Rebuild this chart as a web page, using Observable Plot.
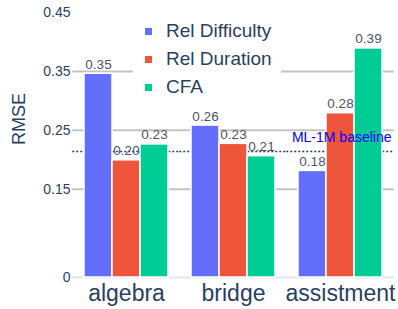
<!DOCTYPE html>
<html>
<head>
<meta charset="utf-8">
<script src="https://cdn.jsdelivr.net/npm/d3@7"></script>
<script src="https://cdn.jsdelivr.net/npm/@observablehq/plot@0.6"></script>
<style>
  html, body { margin: 0; padding: 0; background: #fff; }
  #wrap { position: relative; width: 398px; height: 309px; font-family: "Liberation Sans", Arial, sans-serif; }
  #legend { position: absolute; left: 133px; top: 17px; width: 148px; background: #fff; }
  .item { display: flex; align-items: center; height: 28px; font-size: 19px; color: #2a3f5f; white-space: nowrap; }
  .sw { width: 7px; height: 7px; margin-left: 12px; margin-right: 14px; flex: none; }
</style>
</head>
<body>
<div id="wrap"></div>
<script>
const categories = ["algebra", "bridge", "assistment"];
const seriesNames = ["Rel Difficulty", "Rel Duration", "CFA"];
const relDifficulty = [0.346, 0.258, 0.181];
const relDuration = [0.199, 0.227, 0.279];
const cfa = [0.226, 0.206, 0.389];
const seriesColors = ["#636efa", "#ef553b", "#00cc96"];
const yTicks = [0, 0.15, 0.25, 0.35, 0.45];
const gridValues = [0.15, 0.25, 0.35];
const baselineValue = 0.214;
const baselineLabel = "ML-1M baseline";
const yLabel = "RMSE";

const seriesValues = [relDifficulty, relDuration, cfa];
const rows = categories.flatMap((c, i) =>
  seriesNames.map((s, j) => ({category: c, series: s, value: seriesValues[j][i]}))
);
const baselineRows = [{value: baselineValue, label: baselineLabel, facet: categories[categories.length - 1]}];
const yLabelRows = [{label: yLabel, facet: categories[0]}];
const fmt = d3.format(".2f");

// rules are drawn in each facet, widened to span the gaps between facets
const span = -10.75;

const chart = Plot.plot({
  width: 398,
  height: 309,
  marginLeft: 72,
  marginRight: 4,
  marginTop: 12,
  marginBottom: 32,
  style: {fontFamily: '"Liberation Sans", Arial, sans-serif', background: "#fff", overflow: "visible"},
  fx: {domain: categories, paddingInner: 0.2, paddingOuter: 0.1, label: null},
  x: {domain: seriesNames, padding: 0, axis: null},
  y: {domain: [0, 0.45], label: null},
  color: {domain: seriesNames, range: seriesColors},
  marks: [
    Plot.ruleY(gridValues, {stroke: "#c4c4c4", strokeWidth: 2, insetLeft: span, insetRight: span}),
    Plot.ruleY([0], {stroke: "#e2e6ed", strokeWidth: 2, insetLeft: span, insetRight: span}),
    Plot.ruleY(baselineRows.map(d => d.value), {stroke: "#2a3f5f", strokeWidth: 1.5, strokeDasharray: "2,2", insetLeft: span, insetRight: span}),
    Plot.barY(rows, {fx: "category", x: "series", y: "value", fill: "series", stroke: "#fff", strokeWidth: 1.5}),
    Plot.text(rows, {fx: "category", x: "series", y: "value", text: d => fmt(d.value), lineAnchor: "bottom", dy: -5, fontSize: 13.5, fill: "#4a5468"}),
    Plot.text(baselineRows, {fx: "facet", y: "value", text: "label", frameAnchor: "right", textAnchor: "end", lineAnchor: "bottom", dx: 8, dy: -9, fontSize: 14, fill: "#0000ff"}),
    Plot.text(yLabelRows, {fx: "facet", text: "label", frameAnchor: "left", rotate: -90, dx: -64, fontSize: 18, fill: "#2a3f5f"}),
    Plot.axisY({ticks: yTicks, tickSize: 0, tickPadding: 13, fontSize: 14, fill: "#2a3f5f", tickFormat: d => String(d), label: null}),
    Plot.axisFx({anchor: "bottom", tickSize: 0, tickPadding: 7, fontSize: 23, fill: "#2a3f5f", label: null})
  ]
});

const wrap = document.getElementById("wrap");
wrap.appendChild(chart);

const legend = document.createElement("div");
legend.id = "legend";
seriesNames.forEach((name, i) => {
  const item = document.createElement("div");
  item.className = "item";
  const sw = document.createElement("span");
  sw.className = "sw";
  sw.style.background = seriesColors[i];
  const label = document.createElement("span");
  label.textContent = name;
  item.appendChild(sw);
  item.appendChild(label);
  legend.appendChild(item);
});
wrap.appendChild(legend);
</script>
</body>
</html>
